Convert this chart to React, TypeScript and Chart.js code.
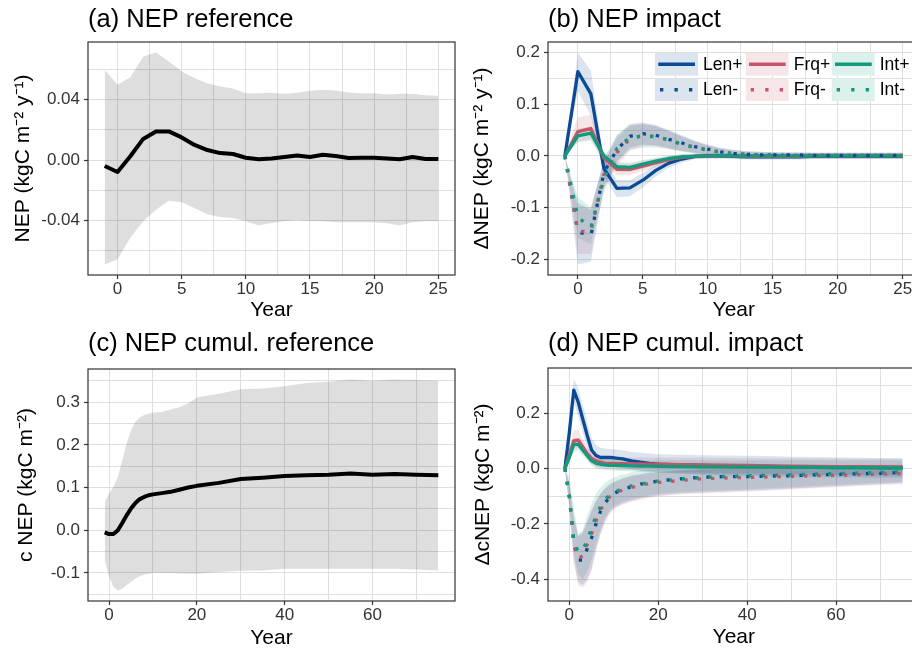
import React, { useEffect, useRef } from "react";
import { Chart, registerables } from "chart.js";
Chart.register(...registerables);

const FONT = "'Liberation Sans', Arial, Helvetica, sans-serif";

// ---------- categories / ticks ----------
const YEARS_A = [-1, 0, 1, 2, 3, 4, 5, 6, 7, 8, 9, 10, 11, 12, 13, 14, 15, 16, 17, 18, 19, 20, 21, 22, 23, 24, 25];
const YEARS_C = [-1, 0, 1, 2, 3, 4, 5, 6, 7, 8, 9, 10, 12, 14, 16, 18, 20, 25, 30, 35, 40, 45, 50, 55, 60, 65, 70, 75];

const X_GRID_A = [0, 2.5, 5, 7.5, 10, 12.5, 15, 17.5, 20, 22.5, 25];
const X_MAJOR_A = [0, 5, 10, 15, 20, 25];
const X_GRID_C = [0, 10, 20, 30, 40, 50, 60, 70];
const X_MAJOR_C = [0, 20, 40, 60];

const Y_GRID_A = [-0.06, -0.04, -0.02, 0, 0.02, 0.04, 0.06];
const Y_MAJOR_A = [-0.04, 0, 0.04];
const Y_GRID_B = [-0.2, -0.15, -0.1, -0.05, 0, 0.05, 0.1, 0.15, 0.2];
const Y_MAJOR_B = [-0.2, -0.1, 0, 0.1, 0.2];
const Y_GRID_C = [-0.15, -0.1, -0.05, 0, 0.05, 0.1, 0.15, 0.2, 0.25, 0.3, 0.35];
const Y_MAJOR_C = [-0.1, 0, 0.1, 0.2, 0.3];
const Y_GRID_D = [-0.4, -0.3, -0.2, -0.1, 0, 0.1, 0.2, 0.3];
const Y_MAJOR_D = [-0.4, -0.2, 0, 0.2];

const SERIES_NAMES = ["Len", "Frq", "Int"];
const SERIES_COLORS = ["#0b4b93", "#c75467", "#129a7d"];

// ---------- (a) NEP reference ----------
const A_MEAN = [-0.004, -0.008, 0.0025, 0.014, 0.019, 0.019, 0.015, 0.01, 0.0066, 0.0046, 0.004, 0.0015, 0.0005, 0.001, 0.002, 0.003, 0.002, 0.0035, 0.0027, 0.0013, 0.0015, 0.0015, 0.001, 0.0005, 0.002, 0.0007, 0.0007];
const A_UPPER = [0.06, 0.05, 0.055, 0.0687, 0.0714, 0.0654, 0.0588, 0.0544, 0.051, 0.0488, 0.0475, 0.0444, 0.0444, 0.0446, 0.044, 0.0446, 0.046, 0.0466, 0.0462, 0.0449, 0.0444, 0.0444, 0.0435, 0.044, 0.044, 0.043, 0.0427];
const A_LOWER = [-0.0694, -0.066, -0.0517, -0.0407, -0.033, -0.027, -0.028, -0.032, -0.036, -0.0378, -0.0385, -0.0407, -0.0435, -0.0418, -0.0407, -0.04, -0.0407, -0.0407, -0.0413, -0.0413, -0.0413, -0.0413, -0.042, -0.0435, -0.0413, -0.0407, -0.0407];

// ---------- (b) NEP impact ----------
const B_LEN_P = [0, 0.163, 0.12, -0.024, -0.063, -0.062, -0.047, -0.028, -0.014, -0.006, -0.001, 0, 0, -0.001, -0.002, -0.002, -0.002, -0.002, -0.002, -0.001, -0.001, -0.001, -0.001, -0.001, -0.001, -0.001, -0.001];
const B_LEN_P_HI = [0, 0.2, 0.165, -0.008, -0.046, -0.047, -0.033, -0.017, -0.005, 0.002, 0.004, 0.005, 0.005, 0.004, 0.003, 0.003, 0.003, 0.003, 0.003, 0.004, 0.004, 0.004, 0.004, 0.004, 0.004, 0.004, 0.004];
const B_LEN_P_LO = [0, 0.126, 0.078, -0.04, -0.08, -0.078, -0.061, -0.04, -0.023, -0.013, -0.006, -0.005, -0.005, -0.006, -0.007, -0.007, -0.007, -0.007, -0.007, -0.006, -0.006, -0.006, -0.006, -0.006, -0.006, -0.006, -0.006];
const B_FRQ_P = [0, 0.047, 0.053, -0.004, -0.026, -0.026, -0.02, -0.013, -0.007, -0.003, -0.001, 0, 0, 0, -0.001, -0.001, -0.001, -0.001, -0.001, 0, 0, 0, 0, 0, 0, 0, 0];
const B_FRQ_P_HI = [0, 0.075, 0.08, 0.007, -0.014, -0.015, -0.01, -0.005, 0, 0.003, 0.004, 0.005, 0.005, 0.005, 0.004, 0.004, 0.004, 0.004, 0.004, 0.005, 0.005, 0.005, 0.005, 0.005, 0.005, 0.005, 0.005];
const B_FRQ_P_LO = [0, 0.028, 0.032, -0.014, -0.038, -0.037, -0.03, -0.021, -0.014, -0.009, -0.006, -0.005, -0.005, -0.005, -0.006, -0.006, -0.006, -0.006, -0.006, -0.005, -0.005, -0.005, -0.005, -0.005, -0.005, -0.005, -0.005];
const B_INT_P = [0, 0.039, 0.044, 0, -0.021, -0.022, -0.016, -0.01, -0.005, -0.002, -0.001, 0, 0, 0, 0, 0, 0, 0, 0, 0, 0, 0, 0, 0, 0, 0, 0];
const B_INT_P_HI = [0, 0.052, 0.058, 0.008, -0.012, -0.013, -0.008, -0.003, 0.001, 0.003, 0.004, 0.004, 0.004, 0.004, 0.004, 0.004, 0.004, 0.004, 0.004, 0.004, 0.004, 0.004, 0.004, 0.004, 0.004, 0.004, 0.004];
const B_INT_P_LO = [0, 0.026, 0.03, -0.008, -0.03, -0.031, -0.025, -0.018, -0.011, -0.007, -0.005, -0.004, -0.004, -0.004, -0.004, -0.004, -0.004, -0.004, -0.004, -0.004, -0.004, -0.004, -0.004, -0.004, -0.004, -0.004, -0.004];
const B_LEN_M = [0, -0.147, -0.154, -0.032, 0.012, 0.038, 0.043, 0.04, 0.032, 0.025, 0.018, 0.013, 0.008, 0.005, 0.003, 0.002, 0.002, 0.002, 0.002, 0.001, 0.001, 0.001, 0.001, 0.001, 0.001, 0.001, 0.001];
const B_LEN_M_HI = [0, -0.09, -0.105, -0.006, 0.04, 0.062, 0.065, 0.06, 0.05, 0.04, 0.03, 0.022, 0.016, 0.012, 0.009, 0.008, 0.007, 0.007, 0.007, 0.006, 0.006, 0.006, 0.006, 0.006, 0.006, 0.006, 0.006];
const B_LEN_M_LO = [0, -0.21, -0.205, -0.06, -0.012, 0.016, 0.022, 0.02, 0.015, 0.01, 0.006, 0.004, 0.001, -0.001, -0.003, -0.004, -0.004, -0.004, -0.004, -0.005, -0.005, -0.005, -0.005, -0.005, -0.005, -0.005, -0.005];
const B_FRQ_M = [0, -0.146, -0.146, -0.036, 0.006, 0.033, 0.04, 0.038, 0.031, 0.023, 0.017, 0.012, 0.008, 0.005, 0.003, 0.002, 0.002, 0.001, 0.001, 0.001, 0.001, 0.001, 0.001, 0.001, 0.001, 0.001, 0.001];
const B_FRQ_M_HI = [0, -0.1, -0.1, -0.01, 0.033, 0.058, 0.062, 0.058, 0.048, 0.038, 0.028, 0.02, 0.015, 0.011, 0.009, 0.008, 0.007, 0.006, 0.006, 0.006, 0.006, 0.006, 0.006, 0.006, 0.006, 0.006, 0.006];
const B_FRQ_M_LO = [0, -0.19, -0.19, -0.065, -0.02, 0.01, 0.019, 0.019, 0.014, 0.009, 0.005, 0.003, 0, -0.002, -0.003, -0.004, -0.004, -0.004, -0.004, -0.004, -0.004, -0.004, -0.004, -0.004, -0.004, -0.004, -0.004];
const B_INT_M = [0, -0.119, -0.138, -0.045, 0.014, 0.036, 0.038, 0.037, 0.031, 0.022, 0.016, 0.011, 0.007, 0.004, 0.003, 0.002, 0.002, 0.001, 0.001, 0.001, 0.001, 0.001, 0.001, 0.001, 0.001, 0.001, 0.001];
const B_INT_M_HI = [0, -0.08, -0.1, -0.015, 0.04, 0.06, 0.062, 0.058, 0.048, 0.037, 0.028, 0.02, 0.014, 0.01, 0.008, 0.007, 0.007, 0.006, 0.006, 0.006, 0.006, 0.006, 0.006, 0.006, 0.006, 0.006, 0.006];
const B_INT_M_LO = [0, -0.16, -0.17, -0.072, -0.012, 0.012, 0.016, 0.016, 0.013, 0.008, 0.005, 0.002, 0, -0.002, -0.003, -0.004, -0.004, -0.004, -0.004, -0.004, -0.004, -0.004, -0.004, -0.004, -0.004, -0.004, -0.004];

// ---------- (c) NEP cumulative reference ----------
const C_MEAN = [-0.005, -0.009, -0.009, 0, 0.017, 0.035, 0.051, 0.064, 0.073, 0.078, 0.082, 0.084, 0.087, 0.09, 0.095, 0.1, 0.104, 0.111, 0.12, 0.123, 0.127, 0.129, 0.13, 0.133, 0.13, 0.132, 0.13, 0.129];
const C_UPPER = [0.066, 0.086, 0.102, 0.125, 0.164, 0.203, 0.234, 0.254, 0.264, 0.27, 0.273, 0.275, 0.277, 0.283, 0.288, 0.297, 0.311, 0.32, 0.33, 0.332, 0.3375, 0.345, 0.348, 0.353, 0.35, 0.353, 0.352, 0.35];
const C_LOWER = [-0.07, -0.109, -0.133, -0.141, -0.137, -0.129, -0.121, -0.113, -0.108, -0.104, -0.102, -0.1, -0.1, -0.1, -0.101, -0.102, -0.102, -0.098, -0.095, -0.094, -0.09, -0.09, -0.09, -0.09, -0.09, -0.09, -0.092, -0.094];

// ---------- (d) NEP cumulative impact ----------
const D_LEN_P = [0, 0.13, 0.283, 0.24, 0.18, 0.121, 0.067, 0.047, 0.04, 0.04, 0.04, 0.039, 0.035, 0.028, 0.023, 0.019, 0.016, 0.013, 0.011, 0.0095, 0.0095, 0.008, 0.006, 0.006, 0.005, 0.004, 0.004, 0.0036];
const D_LEN_P_HI = [0, 0.17, 0.325, 0.29, 0.23, 0.17, 0.11, 0.085, 0.075, 0.072, 0.07, 0.07, 0.066, 0.06, 0.057, 0.054, 0.052, 0.05, 0.048, 0.047, 0.046, 0.045, 0.043, 0.042, 0.04, 0.039, 0.038, 0.037];
const D_LEN_P_LO = [0, 0.09, 0.24, 0.19, 0.13, 0.075, 0.03, 0.012, 0.006, 0.006, 0.006, 0.006, 0.002, -0.003, -0.008, -0.011, -0.014, -0.018, -0.022, -0.025, -0.027, -0.028, -0.03, -0.031, -0.032, -0.032, -0.033, -0.033];
const D_FRQ_P = [0, 0.05, 0.1, 0.103, 0.079, 0.055, 0.037, 0.028, 0.023, 0.02, 0.019, 0.019, 0.018, 0.017, 0.017, 0.016, 0.016, 0.014, 0.013, 0.012, 0.011, 0.01, 0.009, 0.008, 0.007, 0.007, 0.006, 0.006];
const D_FRQ_P_HI = [0, 0.075, 0.14, 0.14, 0.105, 0.078, 0.06, 0.05, 0.045, 0.042, 0.041, 0.04, 0.04, 0.04, 0.04, 0.04, 0.04, 0.039, 0.039, 0.038, 0.038, 0.037, 0.037, 0.036, 0.036, 0.035, 0.035, 0.035];
const D_FRQ_P_LO = [0, 0.03, 0.07, 0.075, 0.055, 0.035, 0.015, 0.005, 0.002, 0, -0.002, -0.003, -0.005, -0.006, -0.008, -0.009, -0.01, -0.012, -0.014, -0.016, -0.018, -0.019, -0.02, -0.021, -0.022, -0.023, -0.024, -0.025];
const D_INT_P = [0, 0.04, 0.087, 0.087, 0.067, 0.047, 0.028, 0.019, 0.016, 0.013, 0.012, 0.012, 0.011, 0.01, 0.009, 0.009, 0.008, 0.007, 0.006, 0.006, 0.005, 0.005, 0.004, 0.004, 0.003, 0.003, 0.002, 0.002];
const D_INT_P_HI = [0, 0.055, 0.11, 0.11, 0.09, 0.068, 0.045, 0.038, 0.034, 0.032, 0.032, 0.032, 0.031, 0.031, 0.03, 0.03, 0.03, 0.03, 0.03, 0.03, 0.03, 0.03, 0.03, 0.03, 0.03, 0.03, 0.03, 0.03];
const D_INT_P_LO = [0, 0.025, 0.06, 0.065, 0.045, 0.028, 0.012, 0, -0.003, -0.005, -0.007, -0.008, -0.009, -0.011, -0.012, -0.014, -0.015, -0.017, -0.019, -0.02, -0.021, -0.022, -0.023, -0.023, -0.024, -0.024, -0.025, -0.025];
const D_LEN_M = [0, -0.1, -0.27, -0.33, -0.33, -0.29, -0.25, -0.2, -0.155, -0.125, -0.105, -0.09, -0.075, -0.065, -0.056, -0.05, -0.045, -0.037, -0.031, -0.029, -0.029, -0.027, -0.026, -0.023, -0.021, -0.019, -0.017, -0.014];
const D_LEN_M_HI = [0, -0.05, -0.17, -0.24, -0.23, -0.19, -0.15, -0.115, -0.09, -0.07, -0.057, -0.048, -0.035, -0.025, -0.02, -0.015, -0.012, -0.006, -0.002, 0.001, 0.003, 0.004, 0.006, 0.007, 0.008, 0.009, 0.01, 0.01];
const D_LEN_M_LO = [0, -0.14, -0.33, -0.41, -0.42, -0.4, -0.36, -0.29, -0.235, -0.19, -0.16, -0.143, -0.126, -0.116, -0.108, -0.102, -0.097, -0.09, -0.086, -0.083, -0.08, -0.076, -0.072, -0.068, -0.064, -0.06, -0.056, -0.053];
const D_FRQ_M = [0, -0.1, -0.27, -0.325, -0.315, -0.275, -0.235, -0.19, -0.15, -0.122, -0.103, -0.09, -0.078, -0.068, -0.06, -0.054, -0.05, -0.043, -0.037, -0.034, -0.032, -0.03, -0.028, -0.026, -0.024, -0.022, -0.02, -0.018];
const D_FRQ_M_HI = [0, -0.055, -0.18, -0.245, -0.235, -0.195, -0.155, -0.12, -0.094, -0.074, -0.06, -0.05, -0.037, -0.028, -0.022, -0.017, -0.014, -0.008, -0.004, -0.001, 0.001, 0.003, 0.004, 0.005, 0.006, 0.007, 0.008, 0.008];
const D_FRQ_M_LO = [0, -0.145, -0.34, -0.42, -0.43, -0.41, -0.37, -0.3, -0.24, -0.195, -0.165, -0.148, -0.13, -0.12, -0.112, -0.106, -0.1, -0.093, -0.089, -0.086, -0.083, -0.079, -0.075, -0.071, -0.067, -0.063, -0.059, -0.056];
const D_INT_M = [0, -0.1, -0.26, -0.3, -0.295, -0.26, -0.215, -0.17, -0.138, -0.112, -0.096, -0.085, -0.072, -0.062, -0.055, -0.05, -0.045, -0.038, -0.032, -0.028, -0.026, -0.024, -0.022, -0.02, -0.018, -0.016, -0.014, -0.012];
const D_INT_M_HI = [0, -0.03, -0.14, -0.24, -0.22, -0.17, -0.125, -0.09, -0.068, -0.052, -0.04, -0.032, -0.021, -0.013, -0.008, -0.004, -0.001, 0.003, 0.006, 0.008, 0.01, 0.011, 0.012, 0.013, 0.013, 0.014, 0.014, 0.015];
const D_INT_M_LO = [0, -0.13, -0.31, -0.38, -0.4, -0.37, -0.33, -0.27, -0.22, -0.18, -0.152, -0.136, -0.12, -0.11, -0.103, -0.097, -0.092, -0.085, -0.081, -0.078, -0.075, -0.071, -0.067, -0.063, -0.059, -0.055, -0.051, -0.048];

// ---------- helpers ----------
function rgba(hex: string, a: number) {
  const n = parseInt(hex.slice(1), 16);
  return `rgba(${(n >> 16) & 255},${(n >> 8) & 255},${n & 255},${a})`;
}
function pts(xs: number[], ys: number[]) {
  return xs.map((x, i) => ({ x, y: ys[i] }));
}
function ribbon(xs: number[], lo: number[], hi: number[], fill: string) {
  return [
    { data: pts(xs, lo), borderWidth: 0, borderColor: "rgba(0,0,0,0)", pointRadius: 0, fill: false, order: 5 },
    { data: pts(xs, hi), borderWidth: 0, borderColor: "rgba(0,0,0,0)", pointRadius: 0, fill: "-1", backgroundColor: fill, order: 5 },
  ];
}
function line(xs: number[], ys: number[], color: string, width: number, dotted: boolean, order: number) {
  return {
    data: pts(xs, ys),
    borderColor: color,
    borderWidth: width,
    borderDash: dotted ? [3.3, 10] : [],
    borderCapStyle: "butt",
    borderJoinStyle: "round",
    pointRadius: 0,
    fill: false,
    tension: 0,
    order,
  };
}
function isIn(list: number[], v: number) {
  return list.some((m) => Math.abs(m - v) < 1e-9);
}

const REF_FILL = "rgba(0,0,0,0.13)";
const GRID_COLOR = "#dfdfdf";
const TICK_TEXT = "#333333";

function impactDatasets(
  xs: number[],
  plus: number[][],
  plusHi: number[][],
  plusLo: number[][],
  minus: number[][],
  minusHi: number[][],
  minusLo: number[][]
) {
  const ds: any[] = [];
  for (let i = 0; i < 3; i++) {
    ds.push(...ribbon(xs, plusLo[i], plusHi[i], rgba(SERIES_COLORS[i], 0.15)));
    ds.push(...ribbon(xs, minusLo[i], minusHi[i], rgba(SERIES_COLORS[i], 0.15)));
  }
  for (let i = 2; i >= 0; i--) ds.push(line(xs, minus[i], SERIES_COLORS[i], 3.3, true, 1));
  for (let i = 2; i >= 0; i--) ds.push(line(xs, plus[i], SERIES_COLORS[i], 3.3, false, 1));
  return ds;
}

const borderPlugin = {
  id: "panelBorder",
  afterDatasetsDraw(chart: any) {
    const { ctx, chartArea: a } = chart;
    ctx.save();
    ctx.strokeStyle = "#333333";
    ctx.lineWidth = 1.2;
    ctx.strokeRect(a.left, a.top, a.right - a.left, a.bottom - a.top);
    ctx.restore();
  },
};

const legendPlugin = {
  id: "impactLegend",
  afterDraw(chart: any) {
    const ctx = chart.ctx;
    const keyLefts = [195, 285.7, 371.7];
    const rowTops = [53, 78.5];
    const kw = 43;
    const kh = 22.5;
    ctx.save();
    for (let r = 0; r < 2; r++) {
      for (let c = 0; c < 3; c++) {
        const x = keyLefts[c];
        const y = rowTops[r];
        ctx.fillStyle = "#ffffff";
        ctx.fillRect(x, y, kw, kh);
        ctx.fillStyle = rgba(SERIES_COLORS[c], 0.15);
        ctx.fillRect(x, y, kw, kh);
        ctx.strokeStyle = SERIES_COLORS[c];
        ctx.lineWidth = 3.3;
        ctx.lineCap = "butt";
        ctx.setLineDash(r === 0 ? [] : [3.3, 11.2]);
        ctx.beginPath();
        ctx.moveTo(x + (r === 0 ? 3.3 : 5), y + kh / 2);
        ctx.lineTo(x + 40, y + kh / 2);
        ctx.stroke();
        ctx.setLineDash([]);
        ctx.fillStyle = "#000000";
        ctx.font = `17.5px ${FONT}`;
        ctx.textBaseline = "middle";
        ctx.textAlign = "left";
        ctx.fillText(SERIES_NAMES[c] + (r === 0 ? "+" : "-"), x + kw + 5, y + kh / 2 + 0.5);
      }
    }
    ctx.restore();
  },
};

type Spec = {
  x: number;
  y: number;
  w: number;
  h: number;
  plot: { l: number; t: number; r: number; b: number };
  title: string;
  titlePadTop: number;
  yTitle: string;
  yTitleX: number;
  xTitleOffset: number;
  xMin: number;
  xMax: number;
  xGrid: number[];
  xMajor: number[];
  yMin: number;
  yMax: number;
  yGrid: number[];
  yMajor: number[];
  yDecimals: number;
  datasets: any[];
  legend?: boolean;
};

const TITLE_SIZE = 25.5;

function buildConfig(s: Spec): any {
  const tickFont = { family: FONT, size: 17 };
  return {
    type: "line",
    data: { datasets: s.datasets },
    options: {
      responsive: false,
      animation: false,
      events: [],
      layout: { padding: { left: 0, top: 0, right: s.w - s.plot.r, bottom: 0 } },
      plugins: {
        legend: { display: false },
        tooltip: { enabled: false },
        title: {
          display: true,
          text: s.title,
          align: "start",
          fullSize: false,
          color: "#000000",
          font: { family: FONT, size: TITLE_SIZE, weight: "normal", lineHeight: 1.2 },
          padding: { top: s.titlePadTop, bottom: s.plot.t - s.titlePadTop - TITLE_SIZE * 1.2 },
        },
      },
      scales: {
        x: {
          type: "linear",
          position: "bottom",
          min: s.xMin,
          max: s.xMax,
          bounds: "data",
          afterBuildTicks: (sc: any) => {
            sc.ticks = s.xGrid.map((v) => ({ value: v }));
          },
          afterFit: (sc: any) => {
            sc.height = s.h - s.plot.b;
          },
          ticks: {
            autoSkip: false,
            maxRotation: 0,
            minRotation: 0,
            padding: 0,
            color: TICK_TEXT,
            font: tickFont,
            callback: (v: number) => (isIn(s.xMajor, v) ? String(v) : ""),
          },
          grid: {
            color: GRID_COLOR,
            lineWidth: 1,
            drawTicks: true,
            tickLength: 4,
            tickWidth: 1.2,
            tickColor: (ctx: any) => (ctx.tick && isIn(s.xMajor, ctx.tick.value) ? "#333333" : "rgba(0,0,0,0)"),
          },
          border: { display: false },
          title: {
            display: true,
            text: "Year",
            color: "#000000",
            font: { family: FONT, size: 21, lineHeight: 1 },
            padding: { top: 0, bottom: s.xTitleOffset - 10.5 },
          },
        },
        y: {
          type: "linear",
          position: "left",
          min: s.yMin,
          max: s.yMax,
          bounds: "data",
          afterBuildTicks: (sc: any) => {
            sc.ticks = s.yGrid.map((v) => ({ value: v }));
          },
          afterFit: (sc: any) => {
            sc.width = s.plot.l;
          },
          ticks: {
            autoSkip: false,
            padding: 4,
            color: TICK_TEXT,
            font: tickFont,
            callback: (v: number) => (isIn(s.yMajor, v) ? v.toFixed(s.yDecimals) : ""),
          },
          grid: {
            color: GRID_COLOR,
            lineWidth: 1,
            drawTicks: true,
            tickLength: 4,
            tickWidth: 1.2,
            tickColor: (ctx: any) => (ctx.tick && isIn(s.yMajor, ctx.tick.value) ? "#333333" : "rgba(0,0,0,0)"),
          },
          border: { display: false },
          title: {
            display: true,
            text: s.yTitle,
            color: "#000000",
            font: { family: FONT, size: 21, lineHeight: 1 },
            padding: { top: s.yTitleX - 10.5, bottom: 0 },
          },
        },
      },
    },
    plugins: s.legend ? [borderPlugin, legendPlugin] : [borderPlugin],
  };
}

const SPECS: Spec[] = [
  {
    x: 0, y: 0, w: 460, h: 320,
    plot: { l: 88, t: 42, r: 455, b: 275 },
    title: "(a) NEP reference", titlePadTop: 5,
    yTitle: "NEP (kgC m⁻² y⁻¹)", yTitleX: 23.4, xTitleOffset: 10,
    xMin: -2.3, xMax: 26.3, xGrid: X_GRID_A, xMajor: X_MAJOR_A,
    yMin: -0.0764, yMax: 0.0784, yGrid: Y_GRID_A, yMajor: Y_MAJOR_A, yDecimals: 2,
    datasets: [...ribbon(YEARS_A, A_LOWER, A_UPPER, REF_FILL), line(YEARS_A, A_MEAN, "#000000", 4, false, 1)],
  },
  {
    x: 460, y: 0, w: 465, h: 320,
    plot: { l: 88, t: 42, r: 459.6, b: 275 },
    title: "(b) NEP impact", titlePadTop: 5,
    yTitle: "ΔNEP (kgC m⁻² y⁻¹)", yTitleX: 22.5, xTitleOffset: 10,
    xMin: -2.3, xMax: 26.3, xGrid: X_GRID_A, xMajor: X_MAJOR_A,
    yMin: -0.2305, yMax: 0.2205, yGrid: Y_GRID_B, yMajor: Y_MAJOR_B, yDecimals: 1,
    datasets: impactDatasets(
      YEARS_A,
      [B_LEN_P, B_FRQ_P, B_INT_P],
      [B_LEN_P_HI, B_FRQ_P_HI, B_INT_P_HI],
      [B_LEN_P_LO, B_FRQ_P_LO, B_INT_P_LO],
      [B_LEN_M, B_FRQ_M, B_INT_M],
      [B_LEN_M_HI, B_FRQ_M_HI, B_INT_M_HI],
      [B_LEN_M_LO, B_FRQ_M_LO, B_INT_M_LO]
    ),
    legend: true,
  },
  {
    x: 0, y: 320, w: 460, h: 332,
    plot: { l: 88, t: 49, r: 455, b: 281 },
    title: "(c) NEP cumul. reference", titlePadTop: 9,
    yTitle: "c NEP (kgC m⁻²)", yTitleX: 25.8, xTitleOffset: 14,
    xMin: -4.8, xMax: 78.8, xGrid: X_GRID_C, xMajor: X_MAJOR_C,
    yMin: -0.1657, yMax: 0.3777, yGrid: Y_GRID_C, yMajor: Y_MAJOR_C, yDecimals: 1,
    datasets: [...ribbon(YEARS_C, C_LOWER, C_UPPER, REF_FILL), line(YEARS_C, C_MEAN, "#000000", 4, false, 1)],
  },
  {
    x: 460, y: 320, w: 465, h: 332,
    plot: { l: 88, t: 48, r: 459.6, b: 281 },
    title: "(d) NEP cumul. impact", titlePadTop: 9,
    yTitle: "ΔcNEP (kgC m⁻²)", yTitleX: 23, xTitleOffset: 14.5,
    xMin: -4.8, xMax: 78.8, xGrid: X_GRID_C, xMajor: X_MAJOR_C,
    yMin: -0.478, yMax: 0.363, yGrid: Y_GRID_D, yMajor: Y_MAJOR_D, yDecimals: 1,
    datasets: impactDatasets(
      YEARS_C,
      [D_LEN_P, D_FRQ_P, D_INT_P],
      [D_LEN_P_HI, D_FRQ_P_HI, D_INT_P_HI],
      [D_LEN_P_LO, D_FRQ_P_LO, D_INT_P_LO],
      [D_LEN_M, D_FRQ_M, D_INT_M],
      [D_LEN_M_HI, D_FRQ_M_HI, D_INT_M_HI],
      [D_LEN_M_LO, D_FRQ_M_LO, D_INT_M_LO]
    ),
  },
];

function Panel({ spec }: { spec: Spec }) {
  const ref = useRef<HTMLCanvasElement | null>(null);
  useEffect(() => {
    if (!ref.current) return;
    const chart = new Chart(ref.current, buildConfig(spec));
    return () => chart.destroy();
  }, [spec]);
  return (
    <canvas
      ref={ref}
      width={spec.w}
      height={spec.h}
      style={{ position: "absolute", left: spec.x, top: spec.y, width: spec.w, height: spec.h }}
    />
  );
}

export default function App() {
  return (
    <div
      style={{
        position: "absolute",
        left: 0,
        top: 0,
        width: 912,
        height: 652,
        overflow: "hidden",
        background: "#ffffff",
      }}
    >
      {SPECS.map((s, i) => (
        <Panel key={i} spec={s} />
      ))}
    </div>
  );
}
